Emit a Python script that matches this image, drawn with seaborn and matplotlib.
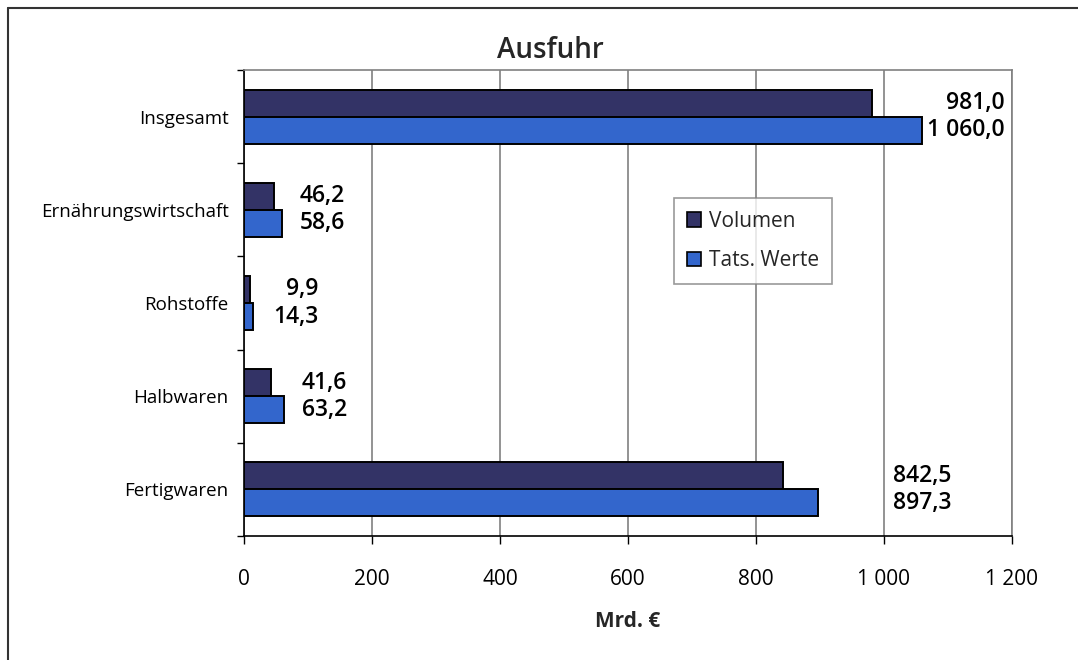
import matplotlib
matplotlib.use("Agg")
import matplotlib.pyplot as plt
import matplotlib.ticker as mticker
from matplotlib.lines import Line2D
import seaborn as sns
import pandas as pd
import numpy as np

categories = ["Insgesamt", "Ernährungswirtschaft", "Rohstoffe", "Halbwaren", "Fertigwaren"]
volumen = [981.0, 46.2, 9.9, 41.6, 842.5]
tats_werte = [1060.0, 58.6, 14.3, 63.2, 897.3]
series_names = ["Volumen", "Tats. Werte"]
x_ticks = [0, 200, 400, 600, 800, 1000, 1200]
title = "Ausfuhr"
xlabel = "Mrd. €"

# right edge (data units) where the value labels of each category end
label_right = [1189, 158, 116, 161, 1105]

colors = {"Volumen": "#333366", "Tats. Werte": "#3366CC"}

df = pd.DataFrame({
    "Kategorie": categories * 2,
    "Wert": volumen + tats_werte,
    "Reihe": [series_names[0]] * len(categories) + [series_names[1]] * len(categories),
})

sns.set_theme(style="white")
plt.rcParams["font.family"] = ["Open Sans", "DejaVu Sans"]

fig = plt.figure(figsize=(10.78, 6.6), dpi=100)
ax = fig.add_axes([244 / 1078, 1 - 536 / 660, 768 / 1078, 466 / 660])

sns.barplot(data=df, y="Kategorie", x="Wert", hue="Reihe", order=categories,
            hue_order=series_names, palette=colors, saturation=1, orient="h", width=0.58,
            edgecolor="black", linewidth=1.4, ax=ax, legend=True, zorder=3)

ax.set_xlim(0, 1200)
ax.set_ylim(len(categories) - 0.5, -0.5)
ax.set_xticks(x_ticks)


def de_fmt(v, decimals=0):
    s = f"{v:,.{decimals}f}"
    return s.replace(",", " ").replace(".", ",")


ax.xaxis.set_major_formatter(mticker.FuncFormatter(lambda v, p: de_fmt(v)))
ax.grid(axis="x", color="#808080", linewidth=1.2, zorder=0)
ax.grid(axis="y", visible=False)
ax.set_axisbelow(True)

for side in ["top", "right"]:
    ax.spines[side].set_color("#808080")
    ax.spines[side].set_linewidth(1.2)
for side in ["left", "bottom"]:
    ax.spines[side].set_color("black")
    ax.spines[side].set_linewidth(1.2)

ax.tick_params(axis="x", which="major", direction="out", length=6, width=1,
               color="black", bottom=True, pad=18, labelsize=15, labelcolor="black")
ax.tick_params(axis="y", which="major", length=0, pad=11, labelsize=13.5, labelcolor="black")
ax.set_yticks(np.arange(len(categories) + 1) - 0.5, minor=True)
ax.tick_params(axis="y", which="minor", direction="out", length=5, width=1, color="black", left=True)

ax.set_ylabel("")
ax.set_xlabel(xlabel, fontsize=15, fontweight="bold", labelpad=15)

# value labels
for container, vals in zip(ax.containers, [volumen, tats_werte]):
    for i, (patch, v) in enumerate(zip(container.patches, vals)):
        yc = patch.get_y() + patch.get_height() / 2
        ax.text(label_right[i], yc, de_fmt(v, 1), ha="right", va="center",
                fontsize=16.5, fontweight="semibold", color="black", zorder=5)

leg = ax.legend(loc="upper left", bbox_to_anchor=(0.56, 0.725), frameon=True,
                fancybox=False, shadow=False, fontsize=15, labelspacing=0.9,
                handlelength=0.7, handleheight=0.7, handletextpad=0.4,
                borderpad=0.6, borderaxespad=0, title=None)
leg.get_frame().set_edgecolor("#808080")
leg.get_frame().set_linewidth(1.2)
for h in leg.legend_handles:
    h.set_edgecolor("black")
    h.set_linewidth(1.2)

fig.text(550 / 1078, 1 - 50 / 660, title, ha="center", va="center",
         fontsize=20, fontweight="semibold")

# outer frame (left and top)
fig.add_artist(Line2D([8 / 1078, 8 / 1078], [0, 1 - 8 / 660], transform=fig.transFigure,
                      color="#333333", linewidth=1.5))
fig.add_artist(Line2D([8 / 1078, 1], [1 - 8 / 660, 1 - 8 / 660], transform=fig.transFigure,
                      color="#333333", linewidth=1.5))

fig.savefig("out.png", dpi=100)
